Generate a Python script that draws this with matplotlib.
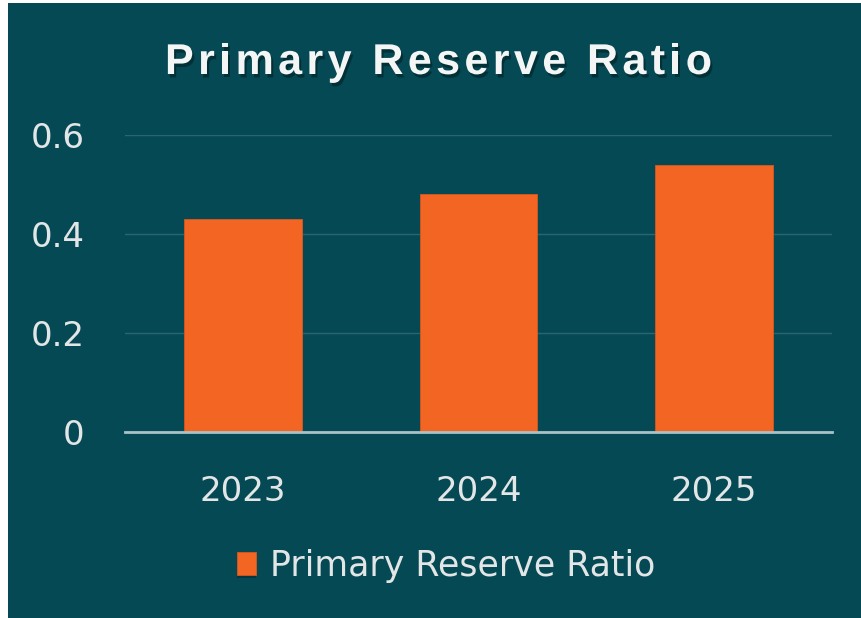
import matplotlib
matplotlib.use("Agg")
import matplotlib.pyplot as plt
import matplotlib.patheffects as pe
from matplotlib.patches import Rectangle
from matplotlib.font_manager import FontProperties

# Datos
years = ["2023", "2024", "2025"]
ratios = [0.43, 0.48, 0.54]
y_ticks = [0, 0.2, 0.4, 0.6]
y_tick_labels = ["0", "0.2", "0.4", "0.6"]
title = "Primary Reserve Ratio"
series_name = "Primary Reserve Ratio"

BG = "#054955"
BAR = "#f36523"
TXT = "#e3e6e6"
W, H = 861, 618

fig = plt.figure(figsize=(W / 100, H / 100), dpi=100, facecolor="white")

# Fondo del panel (franja blanca a la izquierda y arriba)
fig.add_artist(Rectangle((8 / W, 0), 1 - 8 / W, 1 - 3 / H,
                         transform=fig.transFigure, facecolor=BG,
                         edgecolor="none", zorder=-5))

ax = fig.add_axes([125 / W, 1 - 432 / H, 707 / W, 297 / H])
ax.set_facecolor("none")

x = list(range(len(years)))
shadow = [pe.SimplePatchShadow(offset=(0, -2), shadow_rgbFace="#01262c", alpha=0.5),
          pe.Normal()]
bars = ax.bar(x, ratios, width=0.5, color=BAR, label=series_name, zorder=3,
              edgecolor="#d9581e", linewidth=0.6)
for b in bars:
    b.set_path_effects(shadow)

ax.set_xlim(-0.5, 2.5)
ax.set_ylim(0, 0.6)
ax.set_yticks(y_ticks)
ax.set_yticklabels(y_tick_labels)
ax.set_xticks(x)
ax.set_xticklabels(years)

ax.grid(axis="y", color="#2a6670", linewidth=1.0, zorder=0)
ax.set_axisbelow(True)
for s in ["top", "right", "left"]:
    ax.spines[s].set_visible(False)
ax.spines["bottom"].set_color("#a9c2c6")
ax.spines["bottom"].set_linewidth(2)
ax.spines["bottom"].set_zorder(4)

ax.tick_params(axis="both", length=0, colors=TXT, labelsize=24.5)
ax.tick_params(axis="y", pad=29)
ax.tick_params(axis="x", pad=31)

# Título con espaciado entre letras y sombra
fp = FontProperties(family="Liberation Sans", weight="bold", size=31)
renderer = fig.canvas.get_renderer()
widths = [renderer.get_text_width_height_descent(c, fp, ismath=False)[0] for c in title]
x0, x1 = 165, 712
gap = ((x1 - x0) - sum(widths)) / (len(title) - 1)
cx = x0
for c, w in zip(title, widths):
    fig.text(cx / W, 1 - 74 / H, c, ha="left", va="baseline", fontproperties=fp,
             color="#f4f6f6",
             path_effects=[pe.withSimplePatchShadow(offset=(1.5, -2.5),
                                                    shadow_rgbFace="#011c20", alpha=0.55)])
    cx += w + gap

# Leyenda
fig.legend(handles=[bars], labels=[series_name], loc="center",
           bbox_to_anchor=(446 / W, 1 - 566 / H), frameon=False,
           fontsize=25, labelcolor=TXT, handlelength=0.55, handleheight=0.65,
           handletextpad=0.4)

plt.savefig("out.png", dpi=100, facecolor=fig.get_facecolor())
plt.close()
